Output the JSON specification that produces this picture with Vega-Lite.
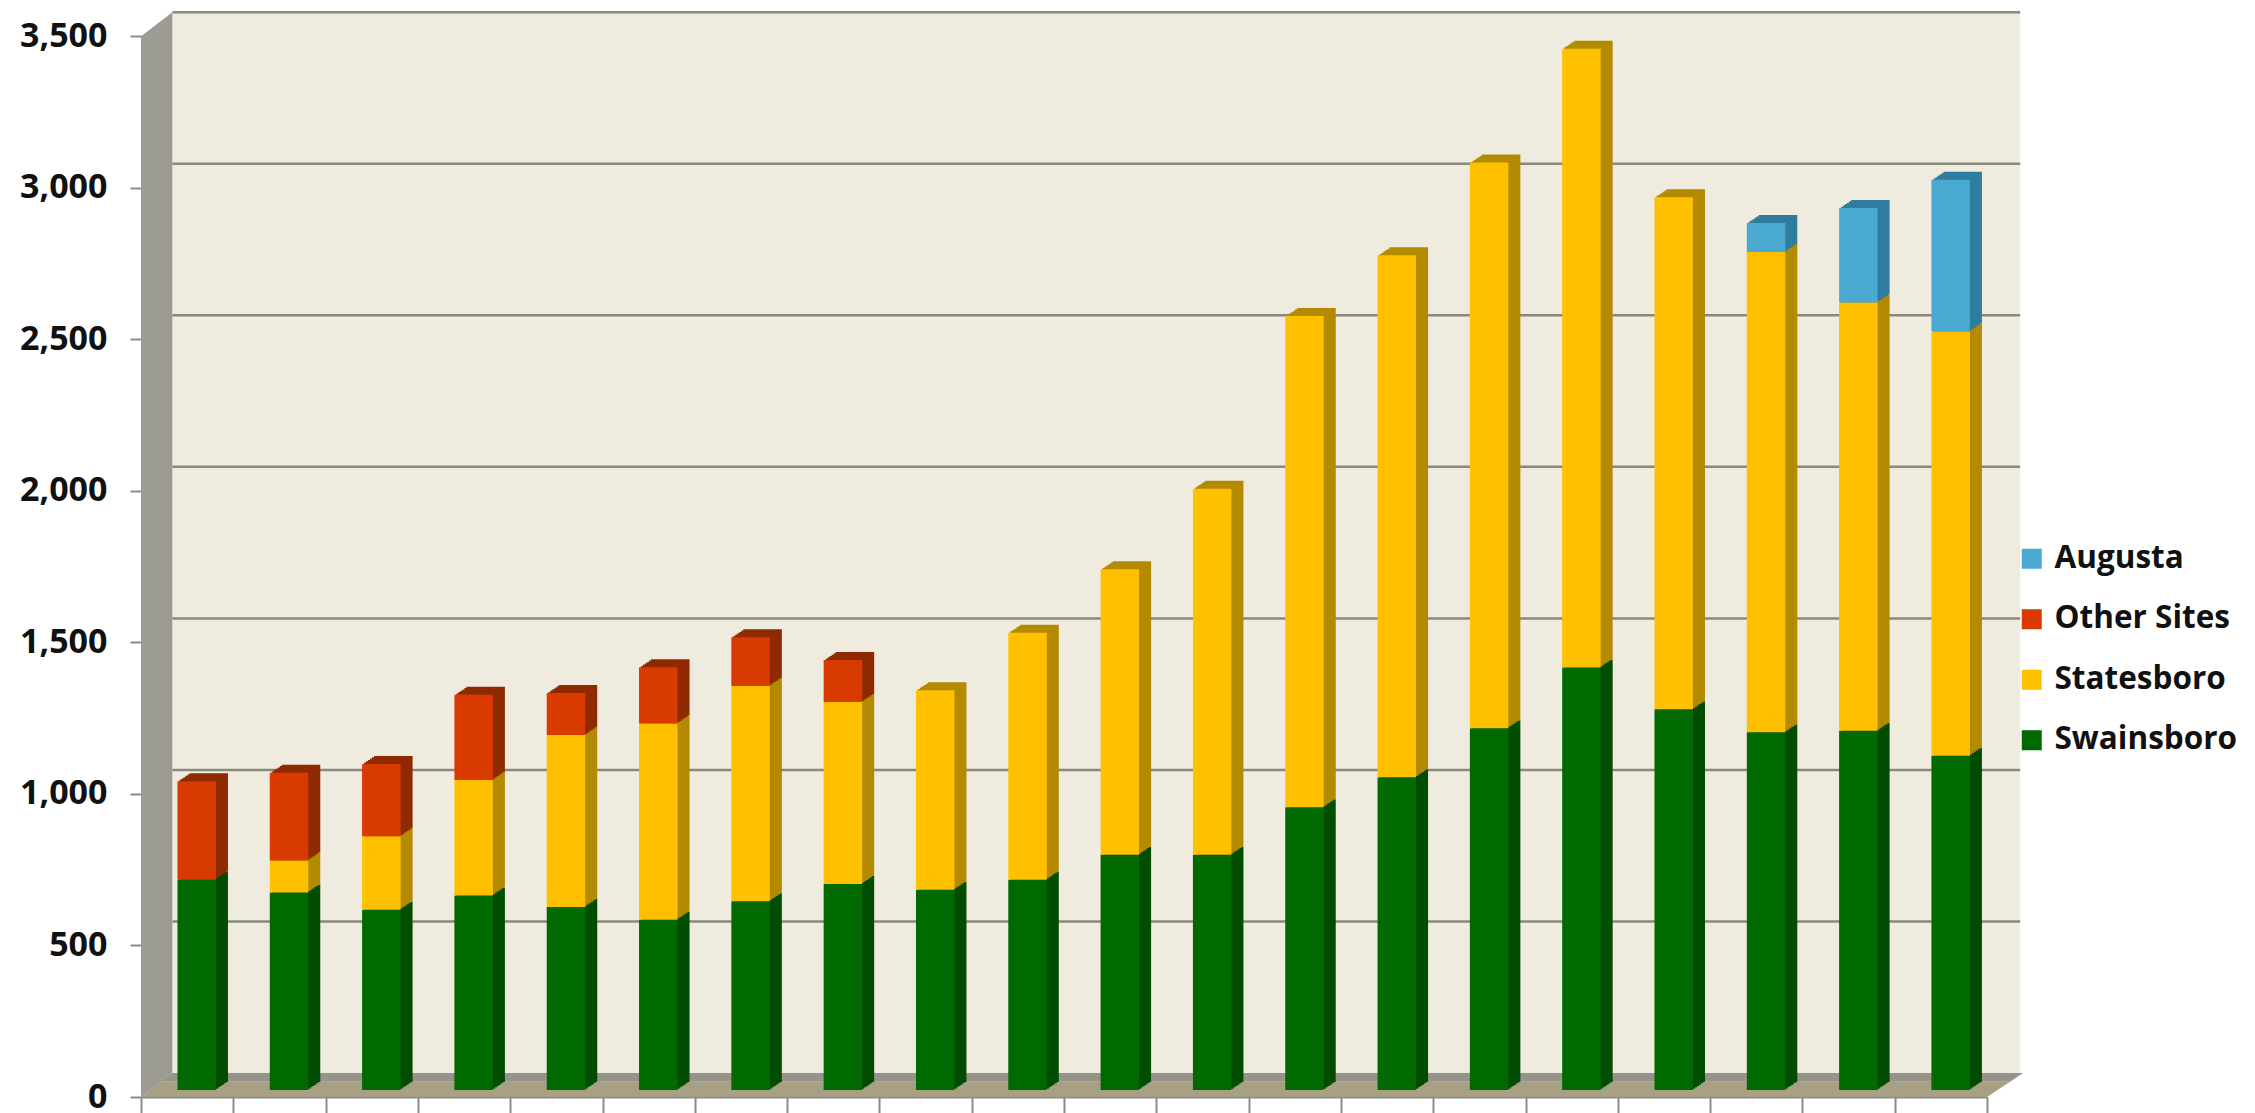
{"$schema":"https://vega.github.io/schema/vega-lite/v6.json","width":1846,"height":1085,"autosize":{"type":"none"},"padding":{"left":141,"top":12,"right":268,"bottom":16},"background":"#ffffff","view":{"stroke":null},
"datasets":{"bars":[
{"period":1,"site":"Swainsboro","count":694},{"period":1,"site":"Other Sites","count":325},
{"period":2,"site":"Swainsboro","count":652},{"period":2,"site":"Statesboro","count":105},{"period":2,"site":"Other Sites","count":290},
{"period":3,"site":"Swainsboro","count":595},{"period":3,"site":"Statesboro","count":242},{"period":3,"site":"Other Sites","count":239},
{"period":4,"site":"Swainsboro","count":642},{"period":4,"site":"Statesboro","count":381},{"period":4,"site":"Other Sites","count":281},
{"period":5,"site":"Swainsboro","count":604},{"period":5,"site":"Statesboro","count":567},{"period":5,"site":"Other Sites","count":139},
{"period":6,"site":"Swainsboro","count":562},{"period":6,"site":"Statesboro","count":647},{"period":6,"site":"Other Sites","count":186},
{"period":7,"site":"Swainsboro","count":623},{"period":7,"site":"Statesboro","count":710},{"period":7,"site":"Other Sites","count":161},
{"period":8,"site":"Swainsboro","count":680},{"period":8,"site":"Statesboro","count":600},{"period":8,"site":"Other Sites","count":139},
{"period":9,"site":"Swainsboro","count":661},{"period":9,"site":"Statesboro","count":658},
{"period":10,"site":"Swainsboro","count":694},{"period":10,"site":"Statesboro","count":815},
{"period":11,"site":"Swainsboro","count":776},{"period":11,"site":"Statesboro","count":942},
{"period":12,"site":"Swainsboro","count":776},{"period":12,"site":"Statesboro","count":1208},
{"period":13,"site":"Swainsboro","count":933},{"period":13,"site":"Statesboro","count":1621},
{"period":14,"site":"Swainsboro","count":1032},{"period":14,"site":"Statesboro","count":1722},
{"period":15,"site":"Swainsboro","count":1194},{"period":15,"site":"Statesboro","count":1866},
{"period":16,"site":"Swainsboro","count":1394},{"period":16,"site":"Statesboro","count":2042},
{"period":17,"site":"Swainsboro","count":1256},{"period":17,"site":"Statesboro","count":1690},
{"period":18,"site":"Swainsboro","count":1180},{"period":18,"site":"Statesboro","count":1585},{"period":18,"site":"Augusta","count":96},
{"period":19,"site":"Swainsboro","count":1185},{"period":19,"site":"Statesboro","count":1413},{"period":19,"site":"Augusta","count":312},
{"period":20,"site":"Swainsboro","count":1103},{"period":20,"site":"Statesboro","count":1400},{"period":20,"site":"Augusta","count":500}
]},
"resolve":{"scale":{"x":"independent"},"axis":{"x":"independent"}},
"layer":[
{"data":{"values":[{"a":0.34,"b":20.36,"lo":79,"hi":3579}]},"mark":{"type":"rect","fill":"#efecdf"},"encoding":{"x":{"field":"a","type":"quantitative","scale":{"domain":[0,20]},"axis":{"values":[0,1,2,3,4,5,6,7,8,9,10,11,12,13,14,15,16,17,18,19,20],"labels":false,"grid":false,"title":null,"tickSize":16,"tickWidth":2,"tickColor":"#8a8a8a","domainColor":"#8a8a8a","domainWidth":2}},"x2":{"field":"b"},"y":{"field":"lo","type":"quantitative","scale":{"domain":[0,3580],"nice":false},"axis":{"values":[0,500,1000,1500,2000,2500,3000,3500],"format":",d","grid":false,"title":null,"domain":false,"tickSize":11,"tickWidth":2,"tickColor":"#8a8a8a","labelFont":"Open Sans","labelFontWeight":"bold","labelFontSize":34,"labelColor":"#111111","labelPadding":23}},"y2":{"field":"hi"}}},
{"data":{"values":[{"x":0,"lo":0,"hi":3500},{"x":0.34,"lo":79,"hi":3579}]},"mark":{"type":"area","fill":"#9c9b94"},"encoding":{"x":{"field":"x","type":"quantitative","scale":{"domain":[0,20]},"axis":null},"y":{"field":"lo","type":"quantitative"},"y2":{"field":"hi"}}},
{"data":{"values":[{"y":0,"l":0,"r":20},{"y":50,"l":0.21,"r":20.25}]},"mark":{"type":"area","orient":"horizontal","fill":"#a8a084"},"encoding":{"x":{"field":"l","type":"quantitative","scale":{"domain":[0,20]},"axis":null},"x2":{"field":"r"},"y":{"field":"y","type":"quantitative"}}},
{"data":{"values":[{"y":50,"l":0.21,"r":20.25},{"y":79,"l":0.34,"r":20.39}]},"mark":{"type":"area","orient":"horizontal","fill":"#96938a"},"encoding":{"x":{"field":"l","type":"quantitative","scale":{"domain":[0,20]},"axis":null},"x2":{"field":"r"},"y":{"field":"y","type":"quantitative"}}},
{"data":{"values":[{"v":500,"a":0.34,"b":20.36},{"v":1000,"a":0.34,"b":20.36},{"v":1500,"a":0.34,"b":20.36},{"v":2000,"a":0.34,"b":20.36},{"v":2500,"a":0.34,"b":20.36},{"v":3000,"a":0.34,"b":20.36},{"v":3500,"a":0.34,"b":20.36}]},"mark":{"type":"rule","stroke":"#8b887c","strokeWidth":2.5,"yOffset":-24},"encoding":{"x":{"field":"a","type":"quantitative","scale":{"domain":[0,20]},"axis":null},"x2":{"field":"b"},"y":{"field":"v","type":"quantitative"}}},
{"data":{"name":"bars"},"mark":{"type":"bar","xOffset":21.7,"x2Offset":21.7,"yOffset":-15,"y2Offset":-15},"encoding":{"x":{"field":"period","type":"nominal","sort":null,"scale":{"paddingInner":0.583,"paddingOuter":0.29},"axis":null},"y":{"field":"count","type":"quantitative","stack":"zero"},"fill":{"field":"site","type":"nominal","scale":{"domain":["Swainsboro","Statesboro","Other Sites","Augusta"],"range":["#004d00","#b38a00","#8f2a00","#2f7d9e"]},"legend":null},"order":{"field":"site","sort":"descending"}}},
{"data":{"name":"bars"},"mark":{"type":"bar","xOffset":19.7,"x2Offset":19.7,"yOffset":-13.7,"y2Offset":-13.7},"encoding":{"x":{"field":"period","type":"nominal","sort":null,"scale":{"paddingInner":0.583,"paddingOuter":0.29},"axis":null},"y":{"field":"count","type":"quantitative","stack":"zero"},"fill":{"field":"site","type":"nominal","legend":null},"order":{"field":"site","sort":"descending"}}},
{"data":{"name":"bars"},"mark":{"type":"bar","xOffset":17.7,"x2Offset":17.7,"yOffset":-12.3,"y2Offset":-12.3},"encoding":{"x":{"field":"period","type":"nominal","sort":null,"scale":{"paddingInner":0.583,"paddingOuter":0.29},"axis":null},"y":{"field":"count","type":"quantitative","stack":"zero"},"fill":{"field":"site","type":"nominal","legend":null},"order":{"field":"site","sort":"descending"}}},
{"data":{"name":"bars"},"mark":{"type":"bar","xOffset":15.7,"x2Offset":15.7,"yOffset":-11,"y2Offset":-11},"encoding":{"x":{"field":"period","type":"nominal","sort":null,"scale":{"paddingInner":0.583,"paddingOuter":0.29},"axis":null},"y":{"field":"count","type":"quantitative","stack":"zero"},"fill":{"field":"site","type":"nominal","legend":null},"order":{"field":"site","sort":"descending"}}},
{"data":{"name":"bars"},"mark":{"type":"bar","xOffset":13.7,"x2Offset":13.7,"yOffset":-9.7,"y2Offset":-9.7},"encoding":{"x":{"field":"period","type":"nominal","sort":null,"scale":{"paddingInner":0.583,"paddingOuter":0.29},"axis":null},"y":{"field":"count","type":"quantitative","stack":"zero"},"fill":{"field":"site","type":"nominal","legend":null},"order":{"field":"site","sort":"descending"}}},
{"data":{"name":"bars"},"mark":{"type":"bar","xOffset":11.7,"x2Offset":11.7,"yOffset":-8.3,"y2Offset":-8.3},"encoding":{"x":{"field":"period","type":"nominal","sort":null,"scale":{"paddingInner":0.583,"paddingOuter":0.29},"axis":null},"y":{"field":"count","type":"quantitative","stack":"zero"},"fill":{"field":"site","type":"nominal","legend":null},"order":{"field":"site","sort":"descending"}}},
{"data":{"name":"bars"},"mark":{"type":"bar","xOffset":9.7,"x2Offset":9.7,"yOffset":-7,"y2Offset":-7},"encoding":{"x":{"field":"period","type":"nominal","sort":null,"scale":{"paddingInner":0.583,"paddingOuter":0.29},"axis":null},"y":{"field":"count","type":"quantitative","stack":"zero"},"color":{"field":"site","type":"nominal","scale":{"domain":["Augusta","Other Sites","Statesboro","Swainsboro"],"range":["#4aa9d0","#d83a00","#ffc000","#006a00"]},"legend":{"orient":"none","legendX":1875,"legendY":531,"title":null,"symbolType":"square","symbolSize":400,"symbolStrokeWidth":0,"labelFont":"Open Sans","labelFontWeight":"bold","labelFontSize":31.5,"labelColor":"#111111","labelOffset":7,"rowPadding":27.5,"labelLimit":300}},"order":{"field":"site","sort":"descending"}}}
]}
